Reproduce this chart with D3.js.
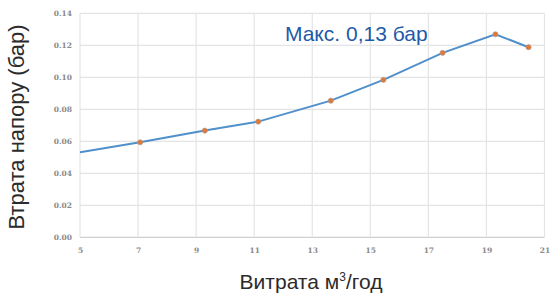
<!DOCTYPE html>
<html>
<head>
<meta charset="utf-8">
<script src="https://cdn.jsdelivr.net/npm/d3@7"></script>
<style>
  body { margin: 0; background: #fff; }
  text { font-family: "Liberation Sans", Arial, sans-serif; }
</style>
</head>
<body>
<div id="wrapper"></div>
<script>
// data
const flowValues = [5, 7.07, 9.3, 11.14, 13.64, 15.45, 17.49, 19.31, 20.45]
const lossValues = [0.0531, 0.0594, 0.0667, 0.0723, 0.0854, 0.0984, 0.1153, 0.1269, 0.1188]
const markerShown = [false, true, true, true, true, true, true, true, true]
const xTicks = [5, 7, 9, 11, 13, 15, 17, 19, 21]
const yTicks = [0, 0.02, 0.04, 0.06, 0.08, 0.10, 0.12, 0.14]
const maxLabel = "Макс. 0,13 бар"

const data = flowValues.map((x, i) => ({ x, y: lossValues[i], marker: markerShown[i] }))

let dimensions = {
    width: 550,
    height: 294,
    margins: { top: 13, right: 6, bottom: 57, left: 80 }
}
dimensions.boundedWidth = dimensions.width - dimensions.margins.left - dimensions.margins.right
dimensions.boundedHeight = dimensions.height - dimensions.margins.top - dimensions.margins.bottom

const svg = d3.select("#wrapper").append("svg")
    .attr("width", dimensions.width)
    .attr("height", dimensions.height)

const bounds = svg.append("g")
    .attr("transform", `translate(${dimensions.margins.left},${dimensions.margins.top})`)

const xScale = d3.scaleLinear()
    .domain([5, 21])
    .range([0, 464.5])
const yScale = d3.scaleLinear()
    .domain([0, 0.14])
    .range([dimensions.boundedHeight + 0.3, 0.3])

// grid
bounds.append("g").selectAll("line").data(yTicks).join("line")
    .attr("x1", 0).attr("x2", xScale(21))
    .attr("y1", d => yScale(d)).attr("y2", d => yScale(d))
    .attr("stroke", d => d === 0 ? "#cfcfcf" : "#e4e4e4")
    .attr("stroke-width", 1.2)
bounds.append("g").selectAll("line").data(xTicks).join("line")
    .attr("x1", d => xScale(d)).attr("x2", d => xScale(d))
    .attr("y1", yScale(0)).attr("y2", yScale(0.14))
    .attr("stroke", "#e4e4e4")
    .attr("stroke-width", 1.2)

// axes
const yAxis = bounds.append("g")
    .call(d3.axisLeft(yScale).tickValues(yTicks).tickFormat(d3.format(".2f")).tickSize(0).tickPadding(8))
yAxis.select(".domain").remove()
yAxis.selectAll("text")
    .attr("fill", "#8a8a8a")
    .style("font-family", "'DejaVu Serif', serif")
    .style("font-size", "7.5px")
    .style("font-weight", "bold")

const xAxis = bounds.append("g")
    .attr("transform", `translate(0,${yScale(0)})`)
    .call(d3.axisBottom(xScale).tickValues(xTicks).tickFormat(d3.format("d")).tickSize(0).tickPadding(10))
xAxis.select(".domain").remove()
xAxis.selectAll("text")
    .attr("fill", "#8a8a8a")
    .style("font-family", "'DejaVu Serif', serif")
    .style("font-size", "7.5px")
    .style("font-weight", "bold")

// line
const lineGenerator = d3.line()
    .x(d => xScale(d.x))
    .y(d => yScale(d.y))
bounds.append("path")
    .attr("d", lineGenerator(data))
    .attr("fill", "none")
    .attr("stroke", "#4f8fca")
    .attr("stroke-width", 2)

bounds.append("g").selectAll("circle").data(data.filter(d => d.marker)).join("circle")
    .attr("cx", d => xScale(d.x))
    .attr("cy", d => yScale(d.y))
    .attr("r", 2.6)
    .attr("fill", "#e5772e")
    .attr("stroke", "#9aa3ad")
    .attr("stroke-width", 0.6)

// annotation
bounds.append("text")
    .attr("x", xScale(12.06))
    .attr("y", 27.7)
    .attr("fill", "#1f5aa8")
    .style("font-size", "21px")
    .text(maxLabel)

// titles
svg.append("text")
    .attr("transform", `translate(24,127) rotate(-90)`)
    .attr("text-anchor", "middle")
    .attr("fill", "#2b2b2b")
    .style("font-size", "22px")
    .text("Втрата напору (бар)")

const xTitle = svg.append("text")
    .attr("x", 311)
    .attr("y", 288.5)
    .attr("text-anchor", "middle")
    .attr("fill", "#2b2b2b")
    .style("font-size", "21px")
xTitle.append("tspan").text("Витрата м")
xTitle.append("tspan").attr("dy", -8).style("font-size", "12px").text("3")
xTitle.append("tspan").attr("dy", 8).text("/год")
</script>
</body>
</html>
